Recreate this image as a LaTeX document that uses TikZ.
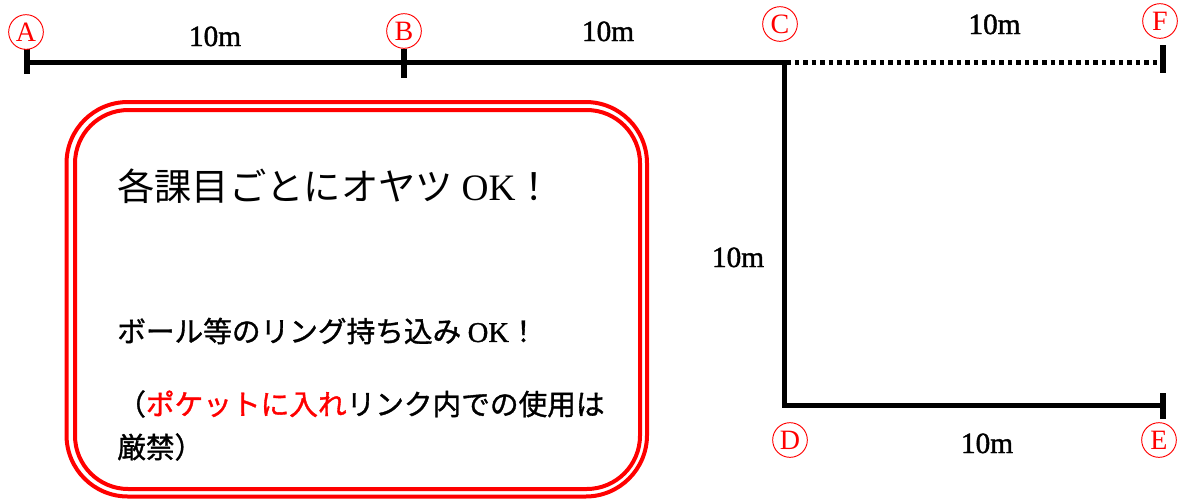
\documentclass[tikz,border=0pt]{standalone}
\usepackage{fontspec}
\setmainfont{Liberation Serif}
\newfontfamily\jp{Noto Sans CJK JP}
\newfontfamily\jpb[FakeBold=1.2]{Noto Sans CJK JP}
\newfontfamily\lat{Liberation Serif}
\newfontfamily\latb[FakeBold=1.2]{Liberation Serif}
\newfontfamily\numfont[FakeBold=1.5]{Liberation Serif}
\begin{document}
\begin{tikzpicture}[x=0.75pt,y=-0.75pt,
  track/.style={line width=3.75pt, line join=miter},
  tickmark/.style={line width=4.5pt},
  dots/.style={line width=3.75pt, dash pattern=on 3.4pt off 3pt},
  letter/.style={circle, draw=red, line width=0.7pt, text=red, minimum size=26pt, inner sep=0pt, font=\lat\fontsize{21}{21}\selectfont},
  dist/.style={anchor=base, inner sep=0pt, font=\numfont\fontsize{22}{22}\selectfont},
  frameout/.style={draw=red, line width=3pt, rounded corners=46pt},
  framein/.style={draw=red, line width=3pt, rounded corners=40pt},
  bigtext/.style={anchor=west, inner sep=0pt, font=\jp\fontsize{28}{28}\selectfont},
  smalltext/.style={anchor=west, inner sep=0pt, font=\jpb\fontsize{21.5}{21.5}\selectfont}]
\useasboundingbox (0,0) rectangle (1184,501);
% points
\coordinate (A) at (27,62);
\coordinate (B) at (404,62);
\coordinate (C) at (784,62);
\coordinate (D) at (784,405.5);
\coordinate (E) at (1163,405.5);
\coordinate (F) at (1163,62);
\coordinate (C2) at (786,62);
\coordinate (Atop) at (27,49);
\coordinate (Abot) at (27,74);
\coordinate (Btop) at (404,49);
\coordinate (Bbot) at (404,78);
\coordinate (Ftop) at (1163,45);
\coordinate (Fbot) at (1163,73);
\coordinate (Etop) at (1163,393);
\coordinate (Ebot) at (1163,419);
% track
\draw[track] (A) -- (C) -- (D) -- (E);
\draw[dots] (C2) -- (F);
\draw[tickmark] (Atop) -- (Abot);
\draw[tickmark] (Btop) -- (Bbot);
\draw[tickmark] (Ftop) -- (Fbot);
\draw[tickmark] (Etop) -- (Ebot);
% letters
\node[letter] (la) at (26,32) {A};
\node[letter] (lb) at (404,31) {B};
\node[letter] (lc) at (780,24) {C};
\node[letter] (lf) at (1160,21) {F};
\node[letter] (ld) at (790,440) {D};
\node[letter] (le) at (1159,440) {E};
% distances
\node[dist] (d1) at (215,46) {10m};
\node[dist] (d2) at (608,41) {10m};
\node[dist] (d3) at (994.5,34) {10m};
\node[dist] (d4) at (738,267) {10m};
\node[dist] (d5) at (987,453) {10m};
% frame
\draw[frameout] (66.5,102) rectangle (647,496.5);
\draw[framein] (75,110) rectangle (640,489);
% texts
\node[bigtext] (t1) at (117,186) {各課目ごとにオヤツ {\lat OK}！};
\node[smalltext] (t2) at (117,331) {ボール等のリング持ち込み {\latb OK}！};
\node[smalltext] (t3) at (117,404) {（\textcolor{red}{ポケットに入れ}リンク内での使用は};
\node[smalltext] (t4) at (117,447) {厳禁）};
\end{tikzpicture}
\end{document}
